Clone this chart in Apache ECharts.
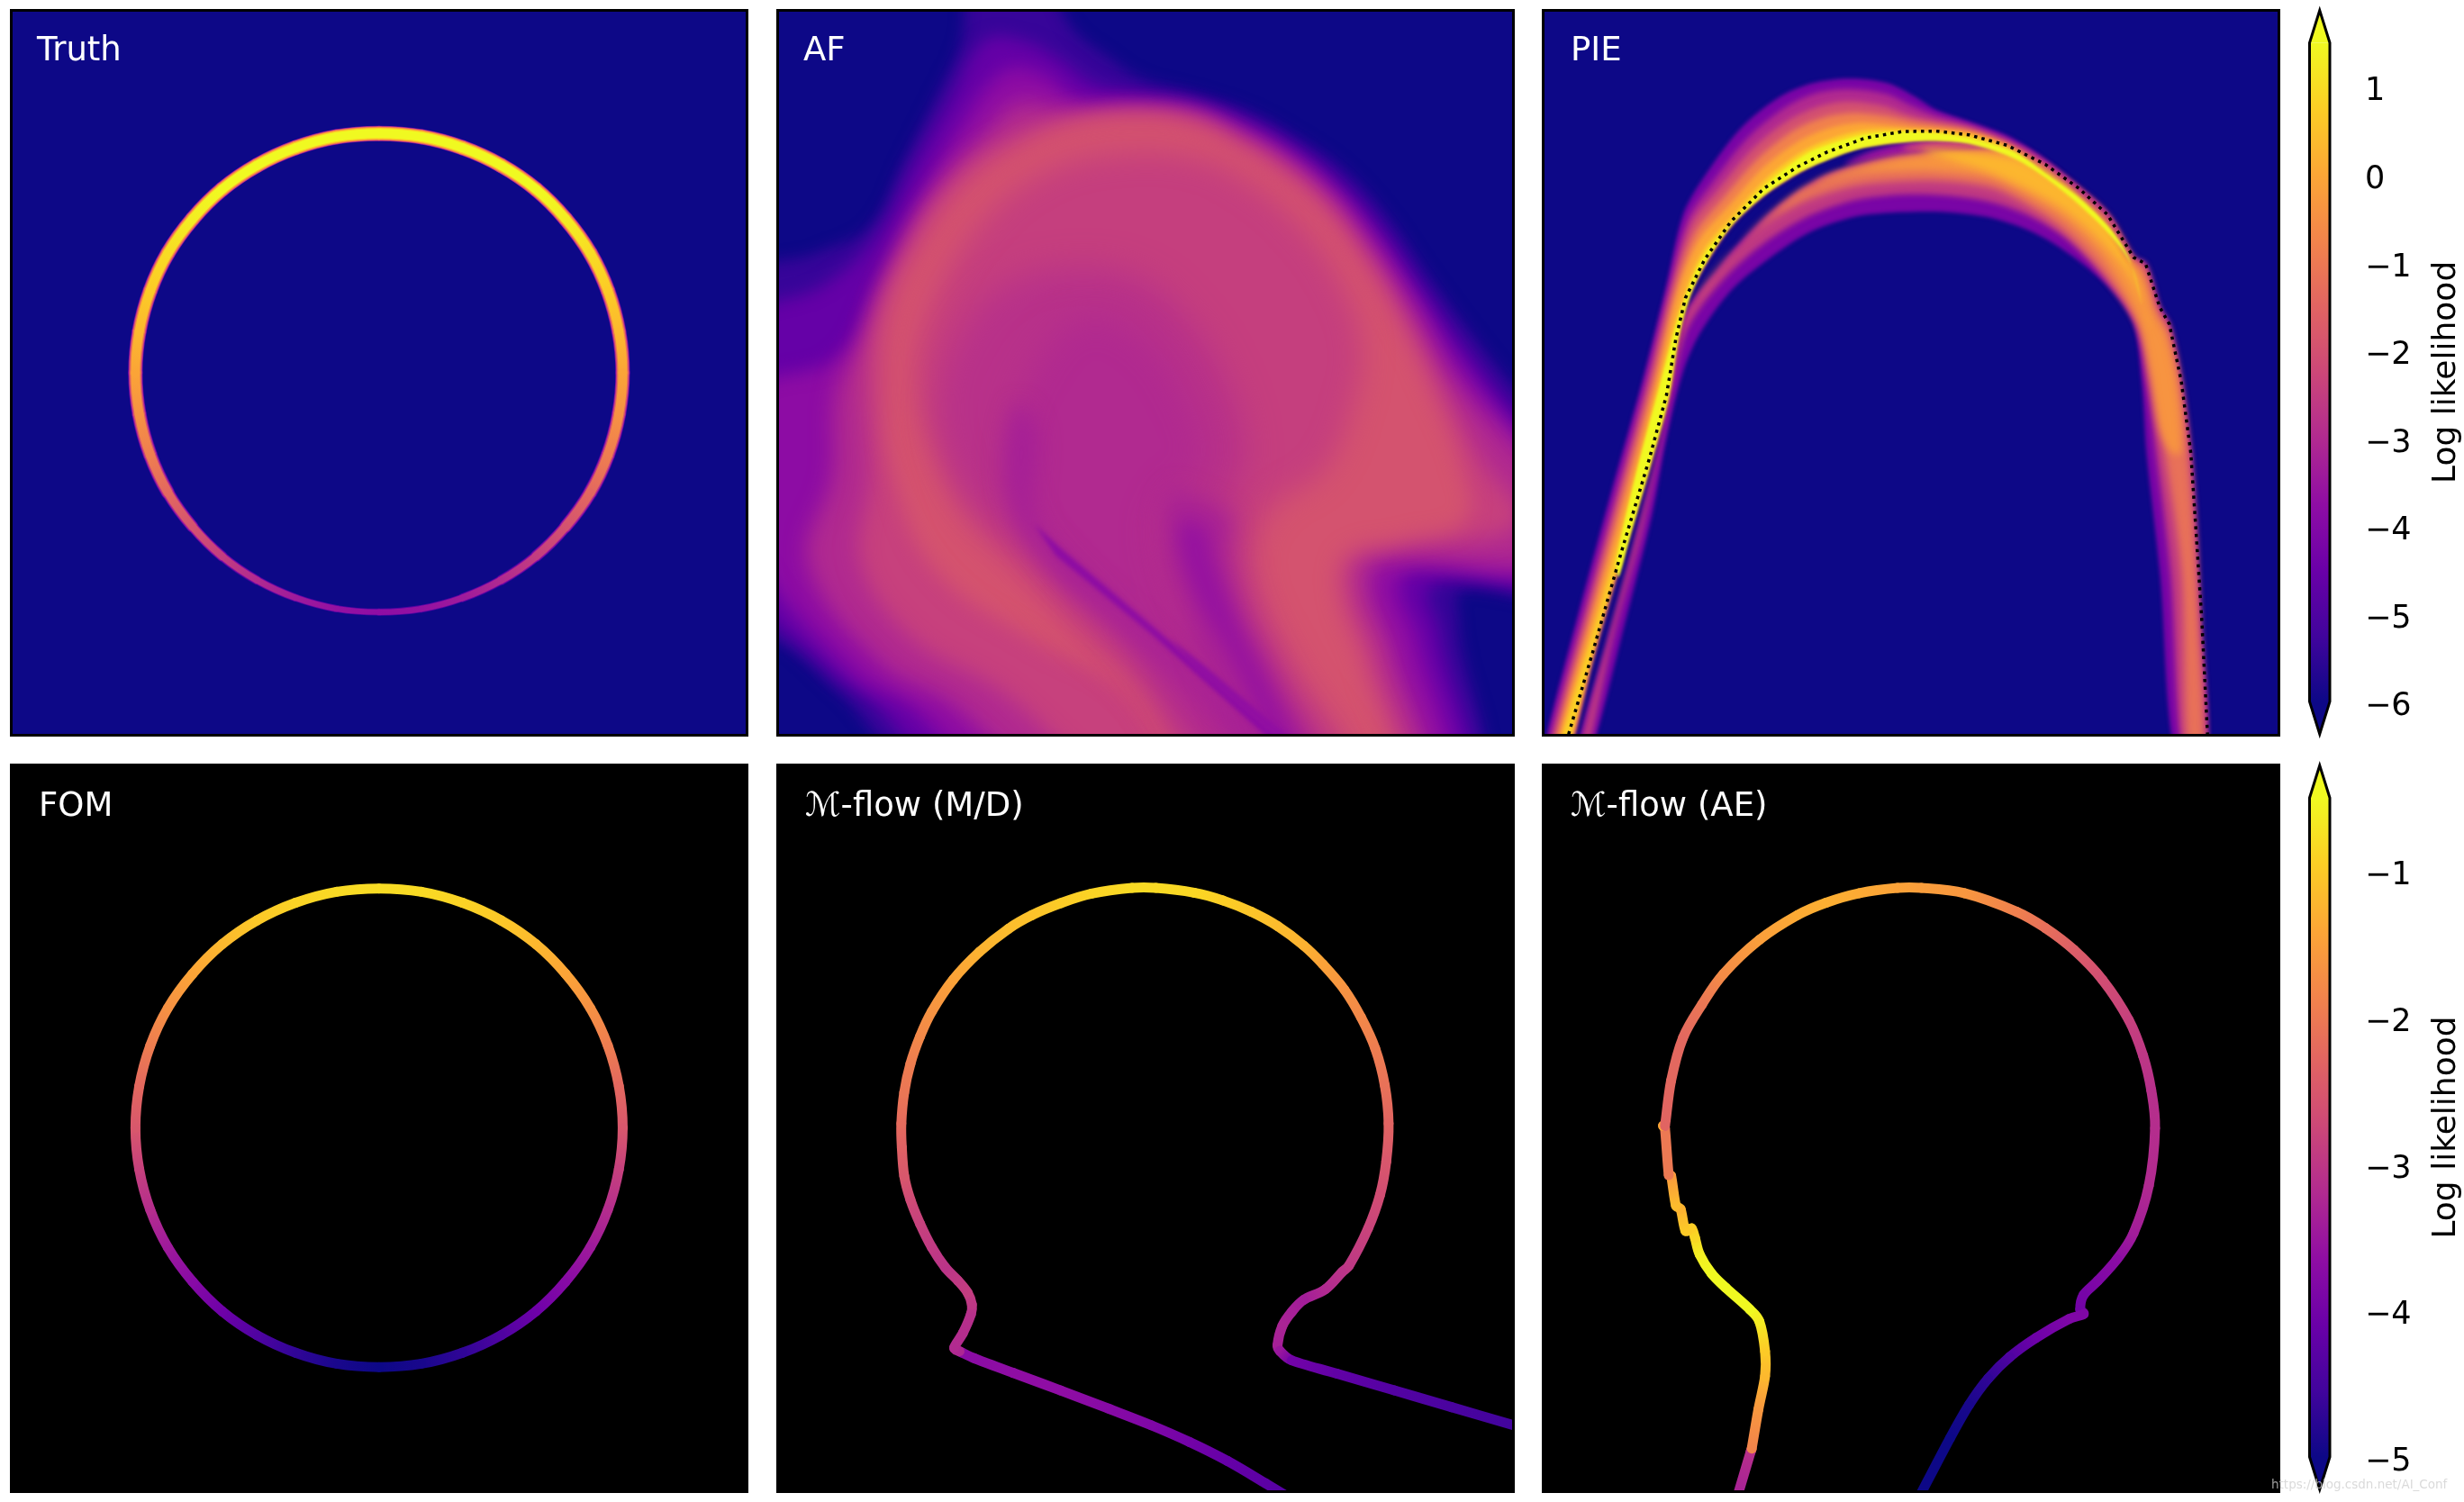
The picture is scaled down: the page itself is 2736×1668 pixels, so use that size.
<!DOCTYPE html>
<html><head><meta charset="utf-8">
<style>html,body{margin:0;padding:0;background:#fff}#c{width:2736px;height:1668px}</style>
<script src="https://cdn.jsdelivr.net/npm/echarts@6/dist/echarts.min.js"></script>
</head><body><div id="c"></div>
<script>
const plasmaStops=['#0d0887','#41049d','#6a00a8','#8f0da4','#b12a90','#cc4778','#e16462','#f2844b','#fca636','#fcce25','#f0f921'];
const panelTitles=['Truth','AF','PIE','FOM','ℳ-flow (M/D)','ℳ-flow (AE)'];
const topTicks=[-6,-5,-4,-3,-2,-1,0,1];
const bottomTicks=[-5,-4,-3,-2,-1];
const topRange=[-6,1.5];
const bottomRange=[-5,-0.5];
const colorbarLabel='Log likelihood';
const watermark='https://blog.csdn.net/AI_Conf';

// Truth ring: [x, y, log likelihood]
const truthRing=[[778,280,2.0],[867,287,1.95],[953,310,1.85],[1034,347,1.7],[1107,397,1.5],[1169,459,1.3],[1221,531,1.0],[1258,610,.7],[1281,695,.35],[1289,782,-.05],[1281,869,-.45],[1258,954,-.9],[1221,1033,-1.4],[1169,1105,-1.95],[1107,1167,-2.5],[1034,1217,-3],[953,1254,-3.4],[867,1277,-3.65],[778,1284,-3.75],[689,1277,-3.65],[603,1254,-3.4],[522,1217,-3],[449,1167,-2.5],[387,1105,-1.95],[335,1033,-1.4],[298,954,-.9],[275,869,-.45],[267,782,-.05],[275,695,.35],[298,610,.7],[335,531,1.0],[387,459,1.3],[449,397,1.5],[522,347,1.7],[603,310,1.85],[689,287,1.95],[778,280,2.0]];
// FOM
const fomRing=[[778,277,-.8],[867,284,-.82],[953,307,-.9],[1034,344,-1.02],[1107,394,-1.2],[1169,456,-1.42],[1221,528,-1.68],[1258,607,-1.95],[1281,692,-2.25],[1289,779,-2.5],[1281,866,-2.85],[1258,951,-3.15],[1221,1030,-3.45],[1169,1102,-3.75],[1107,1164,-4.05],[1034,1214,-4.4],[953,1251,-4.7],[867,1274,-4.9],[778,1281,-5],[689,1274,-4.9],[603,1251,-4.7],[522,1214,-4.4],[449,1164,-4.05],[387,1102,-3.75],[335,1030,-3.45],[298,951,-3.15],[275,866,-2.85],[267,779,-2.5],[275,692,-2.25],[298,607,-1.95],[335,528,-1.68],[387,456,-1.42],[449,394,-1.2],[522,344,-1.02],[603,307,-.9],[689,284,-.82],[778,277,-.8]];
// M-flow (M/D)
const mdCurve=[[1075,1552,-4.35],[1030,1525,-4.25],[950,1478,-4.15],[870,1438,-4.0],[790,1403,-3.85],[700,1368,-3.75],[600,1330,-3.65],[500,1293,-3.65],[420,1263,-3.7],[392,1250,-3.7],[388,1248,-3.25],[377,1240,-3.2],[395,1210,-3.15],[412,1170,-3.1],[414,1150,-3.0],[405,1125,-2.9],[385,1100,-2.95],[358,1072,-3.05],[330,1030,-2.95],[305,980,-2.85],[285,930,-2.7],[272,880,-2.5],[267,820,-2.35],[266,770,-2.2],[272,705,-2.05],[285,645,-1.95],[305,588,-1.8],[330,535,-1.65],[375,468,-1.45],[430,410,-1.27],[490,362,-1.15],[540,333,-1.08],[600,308,-.98],[665,288,-.9],[750,276,-.82],[800,276,-.82],[880,286,-.86],[940,302,-.95],[1000,326,-1.05],[1055,356,-1.15],[1110,397,-1.27],[1150,436,-1.45],[1195,489,-1.65],[1230,547,-1.8],[1260,613,-1.95],[1280,690,-2.1],[1288,770,-2.3],[1283,850,-2.5],[1270,920,-2.65],[1245,990,-2.8],[1205,1068,-2.98],[1190,1082,-3.05],[1155,1118,-3.2],[1110,1140,-3.4],[1085,1165,-3.35],[1065,1195,-3.3],[1055,1235,-3.35],[1060,1247,-3.5],[1085,1267,-4.0],[1180,1295,-4.2],[1300,1330,-4.35],[1420,1365,-4.45],[1560,1406,-4.55]];
// M-flow (AE)
const aeCurve=[[414,1552,-3.35],[442,1458,-3.1],[444,1452,-1.85],[458,1370,-1.6],[472,1300,-1.2],[472,1248,-1.0],[460,1185,-.65],[440,1160,-.5],[390,1115,-.45],[360,1085,-.45],[335,1045,-.6],[325,1010,-.85],[318,990,-.95],[305,995,-1.0],[295,950,-1.25],[285,942,-1.15],[275,880,-1.55],[270,878,-2.0],[262,780,-2.0],[258,775,-1.4],[262,775,-2.3],[275,680,-2.25],[300,590,-2.25],[340,520,-2.05],[385,456,-1.75],[460,385,-1.5],[540,333,-1.35],[600,307,-1.3],[670,287,-1.35],[750,276,-1.45],[800,276,-1.5],[890,287,-1.6],[1000,326,-1.9],[1060,360,-2.15],[1120,406,-2.4],[1180,469,-2.65],[1235,553,-2.85],[1265,628,-3.0],[1282,700,-3.1],[1290,780,-3.15],[1277,900,-3.2],[1245,1000,-3.4],[1210,1055,-3.7],[1170,1100,-3.85],[1140,1130,-3.95],[1133,1160,-4.0],[1140,1170,-3.85],[1110,1180,-3.85],[1040,1220,-4.05],[985,1260,-4.4],[940,1305,-4.7],[900,1360,-4.9],[860,1430,-5],[796,1552,-5]];
// PIE reference manifold (dotted)
const pieManifold=[[60,1540],[110,1370],[170,1160],[230,960],[265,830],[285,710],[305,625],[345,545],[400,465],[470,395],[540,350],[600,320],[680,290],[760,276],[830,275],[900,283],[980,305],[1060,345],[1130,395],[1190,450],[1245,540],[1270,553],[1300,645],[1320,680],[1345,800],[1365,950],[1375,1100],[1388,1300],[1400,1540]];
// PIE density bands: contour outlines [x, y]
const pieInner=[[1240,545],[1190,470],[1100,385],[1000,322],[900,292],[800,287],[680,302],[600,328],[540,358],[470,403],[400,468],[345,548],[305,628],[285,712],[265,832],[230,962],[170,1162],[110,1372],[50,1600]];
const pieWedgeA=[[640,345],[700,315],[800,295],[920,300],[1000,320],[840,325],[760,330],[680,340]];
const pieWedgeB=[[760,312],[820,297],[920,300],[960,315],[850,320]];
const pieLowerA=[[75,1600],[85,1540],[140,1350],[195,1150],[245,950],[275,790],[295,690],[315,640],[370,570],[420,510],[500,435],[590,375],[680,342],[760,325],[840,318],[1000,310],[1060,345],[1130,395],[1190,450],[1245,540],[1270,553],[1300,645],[1320,680],[1345,800],[1365,950],[1375,1100],[1385,1300],[1398,1600],[1335,1600],[1300,1200],[1272,950],[1262,800],[1245,680],[1200,610],[1120,540],[1040,490],[950,458],[850,445],[760,445],[660,455],[560,490],[470,550],[400,610],[335,700],[300,780],[265,920],[235,1080],[180,1300],[100,1600]];
const pieLowerB=[[82,1600],[90,1540],[140,1350],[195,1150],[245,950],[275,790],[295,690],[315,640],[370,570],[420,510],[500,435],[590,375],[680,345],[760,328],[840,320],[1000,312],[1060,345],[1130,395],[1190,450],[1245,540],[1270,553],[1300,645],[1320,680],[1345,800],[1365,950],[1375,1100],[1385,1300],[1396,1600],[1350,1600],[1322,1200],[1292,950],[1272,800],[1250,680],[1190,590],[1110,505],[1030,455],[950,425],[850,410],[760,408],[660,420],[560,455],[470,510],[400,570],[340,640],[305,700],[280,800],[250,950],[210,1130],[155,1330],[95,1600]];
const pieLowerC=[[330,625],[370,570],[420,510],[500,435],[590,375],[680,345],[760,328],[840,320],[1000,315],[1060,350],[1130,400],[1190,455],[1245,545],[1268,560],[1295,650],[1318,690],[1342,800],[1360,950],[1372,1100],[1382,1300],[1392,1600],[1360,1600],[1345,1200],[1310,950],[1285,800],[1255,680],[1180,570],[1100,485],[1030,435],[950,395],[850,380],[760,380],[660,390],[560,420],[470,470],[400,530],[350,590]];
const pieLowerD=[[500,440],[590,380],[680,350],[760,332],[840,322],[1000,320],[1060,355],[1130,405],[1190,460],[1240,550],[1262,575],[1290,660],[1312,700],[1335,800],[1345,950],[1325,950],[1300,900],[1280,780],[1255,670],[1180,540],[1100,460],[1030,415],[950,375],[850,360],[760,358],[660,365],[560,395]];
const pieLowerE=[[800,315],[900,320],[1000,335],[1060,365],[1130,415],[1190,470],[1240,560],[1262,620],[1280,700],[1270,650],[1230,570],[1170,500],[1100,440],[1020,395],[940,360],[860,335]];
const pieUpperA=[[5,1600],[15,1540],[85,1270],[150,1030],[215,800],[265,600],[300,450],[345,370],[420,270],[500,205],[570,175],[650,165],[730,175],[790,205],[830,230],[900,255],[980,285],[1060,335],[1130,395],[1190,450]];
const pieUpperB=[[12,1600],[22,1540],[95,1270],[160,1030],[222,800],[272,600],[310,460],[360,385],[435,290],[515,225],[580,195],[650,187],[725,197],[780,222],[825,240],[900,262],[985,295],[1060,340],[1130,398],[1190,455]];
const pieUpperC=[[20,1600],[30,1540],[103,1270],[168,1030],[230,800],[278,600],[318,470],[372,400],[448,310],[525,250],[590,222],[650,213],[720,222],[770,240],[820,252],[900,268],[985,300],[1060,345],[1130,400],[1190,458]];
const pieUpperD=[[26,1600],[36,1540],[110,1270],[175,1030],[237,800],[285,600],[325,490],[385,415],[460,330],[535,272],[600,245],[660,237],[720,243],[780,255],[830,262],[900,274],[985,305],[1060,350],[1130,405],[1190,462]];
const pieUpperE=[[32,1600],[42,1540],[118,1270],[185,1030],[245,800],[290,610],[333,505],[398,430],[470,350],[545,295],[610,268],[670,258],[730,262],[790,268],[850,272],[910,280],[985,308],[1060,355],[1130,410],[1190,465]];
const pieUpperF=[[38,1600],[48,1540],[128,1270],[195,1030],[252,800],[295,640],[340,530],[410,445],[480,370],[555,315],[620,288],[680,274],[760,272],[850,277],[920,288],[990,314],[1060,362],[1130,415],[1190,470]];
const pieRidge=[[160,1180],[200,1000],[254,800],[298,640],[345,535],[415,450],[485,378],[560,322],[625,297],[685,282],[770,276],[860,282],[930,296],[1000,320],[1065,366],[1135,418],[1195,478],[1235,540],[1262,640],[1240,555],[1185,482],[1095,400],[1000,336],[900,302],[800,296],[680,310],[600,337],[540,364],[470,410],[400,475],[345,557],[312,630],[290,714],[270,834],[235,964],[185,1140],[165,1210]];
const pieLevels={wedgeA:-3.6,wedgeB:-2.2,lowerA:-4.2,lowerB:-2.6,lowerC:-1.2,lowerD:-.4,lowerE:.3,upperA:-4.2,upperB:-3.0,upperC:-2.0,upperD:-.8,upperE:0,upperF:.8,ridge:1.8};
// AF density bands: contour outlines [x, y]
const afA=[[420,-80],[540,-80],[625,60],[700,120],[770,165],[880,195],[1000,235],[1100,290],[1200,360],[1290,460],[1380,590],[1470,710],[1560,820],[1640,900],[1640,1240],[1440,1240],[1435,1300],[1450,1640],[345,1640],[130,1450],[50,1375],[-60,1280],[-60,590],[90,530],[200,475],[270,340],[340,200],[390,90]];
const afB=[[440,85],[520,85],[600,125],[670,175],[760,195],[880,215],[990,255],[1090,310],[1185,385],[1270,480],[1360,610],[1450,735],[1549,860],[1640,950],[1640,1215],[1430,1215],[1370,1240],[1395,1330],[1425,1640],[400,1640],[200,1470],[110,1400],[-60,1210],[-60,680],[100,600],[210,500],[290,350],[365,215]];
const afC=[[480,150],[560,155],[640,208],[760,215],[880,230],[985,270],[1080,325],[1175,400],[1260,500],[1345,625],[1435,760],[1549,900],[1640,980],[1640,1195],[1340,1195],[1310,1240],[1350,1340],[1390,1640],[480,1640],[280,1480],[160,1410],[-60,1120],[-60,830],[130,750],[210,600],[290,440],[385,270]];
const afD=[[510,215],[590,225],[650,235],[760,228],[880,240],[980,285],[1070,335],[1165,415],[1250,520],[1335,645],[1420,790],[1549,930],[1640,1020],[1640,1170],[1270,1180],[1250,1240],[1300,1370],[1345,1640],[600,1640],[360,1470],[220,1390],[70,1180],[120,1000],[130,820],[195,700],[250,560],[340,400],[440,280]];
const afE=[[600,250],[760,235],[880,250],[975,295],[1060,345],[1155,425],[1240,535],[1320,665],[1400,810],[1480,960],[1560,1100],[1230,1165],[1210,1240],[1260,1380],[1305,1640],[740,1640],[460,1440],[290,1340],[180,1180],[200,1000],[190,800],[205,680],[270,530],[360,390],[470,300]];
const afF=[[620,262],[760,245],[880,262],[970,305],[1050,355],[1145,435],[1230,545],[1310,680],[1380,830],[1440,980],[1450,1090],[1320,1130],[1200,1160],[1180,1240],[1235,1400],[1280,1640],[900,1640],[720,1440],[540,1340],[340,1200],[250,1000],[230,800],[245,650],[310,510],[400,390],[510,310]];
const afG=[[560,365],[700,325],[880,330],[1000,385],[1100,470],[1180,580],[1230,720],[1210,860],[1150,990],[1050,1060],[1005,1150],[1020,1260],[1090,1400],[1220,1640],[900,1640],[770,1450],[640,1330],[530,1210],[420,1100],[340,950],[300,790],[340,620],[440,460]];
const afH=[[390,700],[480,600],[620,560],[760,580],[860,660],[950,800],[990,950],[960,1050],[960,1150],[990,1270],[1060,1420],[1180,1640],[960,1640],[800,1400],[650,1260],[510,1130],[420,1060],[360,950],[345,830]];
const afL=[[540,780],[640,670],[760,700],[860,830],[900,980],[830,1040],[800,1130],[880,1320],[1000,1500],[1050,1640],[930,1600],[700,1300],[560,1150],[500,1020],[500,900]];
const afI=[[505,850],[490,1040],[580,1190],[720,1310],[860,1430],[1040,1600],[1100,1600],[900,1430],[760,1300],[620,1170],[550,1080],[550,900]];
const afJ=[[830,1030],[900,1050],[960,1090],[950,1150],[975,1270],[1040,1400],[1150,1640],[1040,1640],[900,1400],[860,1280],[820,1160]];
const afK=[[850,1100],[900,1110],[920,1180],[970,1310],[1030,1430],[1130,1640],[1090,1640],[960,1380],[880,1240]];
const afStreak=[[545,1100],[600,1150],[800,1320],[1075,1560],[1050,1560],[790,1330],[590,1165]];
const afStreak2=[[830,1340],[900,1395],[1120,1580],[1095,1580],[890,1410]];
const afLevels={a:-5.4,b:-4.6,c:-3.8,d:-3.0,e:-2.4,f:-1.95,g:-2.45,h:-2.8,l:-3.0,i:-3.25,j:-3.2,k:-3.6,streak:-3.8,streak2:-3.7};

const FONT='DejaVu Sans';
const chart=echarts.init(document.getElementById('c'),null,{renderer:'canvas'});
const color=(v,r)=>echarts.color.lerp(Math.max(0,Math.min(1,(v-r[0])/(r[1]-r[0]))),plasmaStops);

const cols=[14,865,1715],W=814,rowsY=[13,851],H=[802,804];
const xRange=[9.4,1547];
const yRanges=[[24.6,1539.5],[20.8,1539.5]];
const grids=[],xAxes=[],yAxes=[],series=[],titles=[];
const titleX=[41,892,1744,43,894,1744],titleY=[39,39,39,878,878,878];
for(let r=0;r<2;r++)for(let c=0;c<3;c++){
  const i=r*3+c;
  grids.push({left:cols[c],top:rowsY[r],width:W,height:H[r],show:true,backgroundColor:r?'#000':'#0d0887',borderWidth:0});
  xAxes.push({type:'value',gridIndex:i,min:xRange[0],max:xRange[1],show:false});
  yAxes.push({type:'value',gridIndex:i,min:yRanges[r][0],max:yRanges[r][1],inverse:true,show:false});
  titles.push({text:panelTitles[i],left:titleX[i],top:titleY[i],padding:0,textStyle:{color:'#fff',fontFamily:FONT,fontSize:37,fontWeight:'normal'}});
  // panel frame
  series.push({type:'custom',xAxisIndex:i,yAxisIndex:i,silent:true,animation:false,z:10,
    data:[[xRange[0],yRanges[r][0]],[xRange[1],yRanges[r][1]]],encode:{x:0,y:1},
    renderItem(p,api){
      if(p.dataIndex)return null;
      const a=api.coord([xRange[0],yRanges[r][0]]),b=api.coord([xRange[1],yRanges[r][1]]);
      return {type:'rect',shape:{x:a[0]-1.5,y:a[1]-1.5,width:b[0]-a[0]+3,height:b[1]-a[1]+3},style:{fill:'none',stroke:'#000',lineWidth:3}};
    }});
}
// colour-bar grids
[[47.6,731.5,topRange,topTicks],[886,732,bottomRange,bottomTicks]].forEach(([top,h,rg,ticks])=>{
  const i=grids.length;
  grids.push({left:2564.5,width:31.5,top,height:h});
  xAxes.push({type:'value',gridIndex:i,min:0,max:1,show:false});
  yAxes.push({type:'value',gridIndex:i,min:rg[0],max:rg[1],position:'right',
    axisLine:{show:false},splitLine:{show:false},
    axisTick:{show:true,length:14,customValues:ticks,lineStyle:{color:'#000',width:2.5}},
    axisLabel:{show:true,margin:39,align:'left',customValues:ticks,color:'#000',fontFamily:FONT,fontSize:35,
      formatter:v=>'{t|'+String(v).replace('-','\u2212')+'}',
      rich:{t:{color:'#000',fontFamily:FONT,fontSize:35,padding:[12,0,0,0]}}},
    name:colorbarLabel,nameLocation:'middle',nameRotate:90,nameGap:112,nameMoveOverlap:false,nameTextStyle:{color:'#000',fontFamily:FONT,fontSize:36}});
  series.push({type:'custom',xAxisIndex:i,yAxisIndex:i,silent:true,animation:false,z:5,
    data:[[0,rg[0]],[1,rg[1]]],encode:{x:0,y:1},
    renderItem(p,api){
      if(p.dataIndex)return null;
      const a=api.coord([0,rg[1]]),b=api.coord([1,rg[0]]),tip=36,mx=(a[0]+b[0])/2;
      const n=plasmaStops.length-1;
      const stops=plasmaStops.map((c,k)=>({offset:1-k/n,color:c})).reverse();
      const grad=new echarts.graphic.LinearGradient(0,0,0,1,stops);
      return {type:'group',children:[
        {type:'polygon',shape:{points:[[a[0],a[1]],[mx,a[1]-tip],[b[0],a[1]]]},style:{fill:plasmaStops[n]}},
        {type:'polygon',shape:{points:[[a[0],b[1]],[mx,b[1]+tip],[b[0],b[1]]]},style:{fill:plasmaStops[0]}},
        {type:'rect',shape:{x:a[0],y:a[1],width:b[0]-a[0],height:b[1]-a[1]},style:{fill:grad}},
        {type:'polygon',shape:{points:[[a[0],a[1]],[mx,a[1]-tip],[b[0],a[1]],[b[0],b[1]],[mx,b[1]+tip],[a[0],b[1]]]},style:{fill:'none',stroke:'#000',lineWidth:3,lineJoin:'miter'}}
      ]};
    }});
});
// a soft-edged density contour: only the blurred shadow of the outline is seen
function band(gi,pts,v,blur,smooth){
  const OFF=4000,c=color(v,topRange);
  series.push({type:'custom',xAxisIndex:gi,yAxisIndex:gi,clip:true,silent:true,animation:false,z:2,
    data:pts,encode:{x:0,y:1},
    renderItem(p,api){
      if(p.dataIndex)return null;
      return {type:'polygon',shape:{points:pts.map(q=>{const s=api.coord(q);return [s[0]-OFF,s[1]];}),smooth:smooth},
        style:{fill:'#000',shadowBlur:blur,shadowColor:c,shadowOffsetX:OFF}};
    }});
}
// a curve coloured by log likelihood, drawn as smooth pieces between its points
function curve(gi,pts,rg,width,dv,thin){
  const n=pts.length,closed=pts[0][0]===pts[n-1][0]&&pts[0][1]===pts[n-1][1];
  const tan=(u,v,len)=>{const dx=(v[0]-u[0])/6,dy=(v[1]-u[1])/6,m=Math.hypot(dx,dy),k=m>len*.4?len*.4/m:1;return [dx*k,dy*k];};
  series.push({type:'custom',xAxisIndex:gi,yAxisIndex:gi,clip:true,silent:true,animation:false,z:3,
    data:pts,encode:{x:0,y:1},
    renderItem(p,api){
      const i=p.dataIndex;if(i>=n-1)return null;
      const a=api.coord(pts[i]),b=api.coord(pts[i+1]);
      const pv=api.coord(i>0?pts[i-1]:(closed?pts[n-2]:pts[0])),nx=api.coord(i<n-2?pts[i+2]:(closed?pts[1]:pts[n-1]));
      const len=Math.hypot(b[0]-a[0],b[1]-a[1]);if(!len)return null;
      const t0=tan(pv,b,len),t1=tan(a,nx,len);
      const g=new echarts.graphic.LinearGradient(a[0],a[1],b[0],b[1],[{offset:0,color:color(pts[i][2]-dv,rg)},{offset:1,color:color(pts[i+1][2]-dv,rg)}],true);
      const scale=thin?thin+(1-thin)*Math.max(0,Math.min(1,(pts[i][2]+3.75)/2.5)):1;
      return {type:'bezierCurve',shape:{x1:a[0],y1:a[1],x2:b[0],y2:b[1],cpx1:a[0]+t0[0],cpy1:a[1]+t0[1],cpx2:b[0]-t1[0],cpy2:b[1]-t1[1]},style:{fill:'none',stroke:g,lineWidth:width*scale,lineCap:'round'}};
    }});
}
// Truth
[[6,17],[4,16],[2.5,14.5],[1.2,12.5],[0,10]].forEach(([d,w])=>curve(0,truthRing,topRange,w,d,.62));
// AF
band(1,afA,afLevels.a,16,.4);band(1,afB,afLevels.b,18,.4);band(1,afC,afLevels.c,20,.4);band(1,afD,afLevels.d,24,.4);
band(1,afE,afLevels.e,24,.4);band(1,afF,afLevels.f,22,.4);band(1,afG,afLevels.g,32,.4);band(1,afH,afLevels.h,36,.4);band(1,afL,afLevels.l,36,.4);
band(1,afI,afLevels.i,24,.4);band(1,afJ,afLevels.j,26,.4);band(1,afK,afLevels.k,20,.4);band(1,afStreak,afLevels.streak,5,0);band(1,afStreak2,afLevels.streak2,5,0);
// PIE
band(2,pieWedgeA,pieLevels.wedgeA,6,.4);band(2,pieWedgeB,pieLevels.wedgeB,6,.4);
band(2,pieLowerA,pieLevels.lowerA,4,.3);band(2,pieLowerB,pieLevels.lowerB,6,.3);band(2,pieLowerC,pieLevels.lowerC,8,.3);band(2,pieLowerD,pieLevels.lowerD,8,.3);band(2,pieLowerE,pieLevels.lowerE,8,.3);
band(2,pieUpperA.concat(pieInner),pieLevels.upperA,4,.3);band(2,pieUpperB.concat(pieInner),pieLevels.upperB,6,.3);band(2,pieUpperC.concat(pieInner),pieLevels.upperC,6,.3);band(2,pieUpperD.concat(pieInner),pieLevels.upperD,6,.3);band(2,pieUpperE.concat(pieInner),pieLevels.upperE,5,.3);band(2,pieUpperF.concat(pieInner),pieLevels.upperF,4,.3);band(2,pieRidge,pieLevels.ridge,3,.3);
series.push({type:'line',xAxisIndex:2,yAxisIndex:2,data:pieManifold,showSymbol:false,silent:true,animation:false,z:4,clip:true,lineStyle:{color:'#000',width:3.5,type:[3.5,5]}});
// bottom row
curve(3,fomRing,bottomRange,11,0);curve(4,mdCurve,bottomRange,11,0);curve(5,aeCurve,bottomRange,11,0);

chart.setOption({animation:false,backgroundColor:'#fff',title:titles,grid:grids,xAxis:xAxes,yAxis:yAxes,series,
  graphic:[{type:'text',x:2522,y:1642,z:100,silent:true,style:{text:watermark,fontFamily:FONT,fontSize:13.5,fill:'rgba(205,205,205,0.75)'}}]});
</script></body></html>
